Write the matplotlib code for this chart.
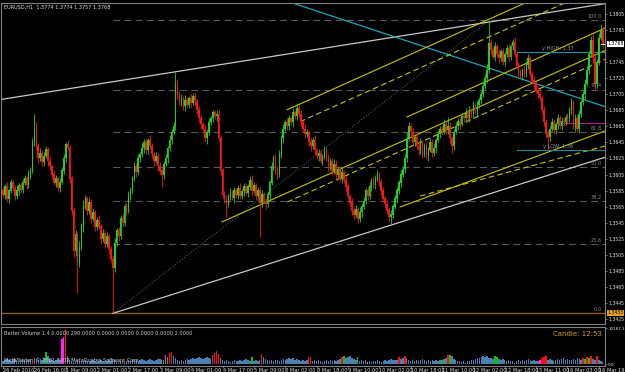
import matplotlib
matplotlib.use('Agg')
import matplotlib.pyplot as plt
import numpy as np

title_text = "EURUSD,H1  1.3774 1.3774 1.3757 1.3768"
base_price = 1.3400
pip = 0.0001
first_open = 185
closes = [180, 190, 175, 185, 195, 188, 178, 185, 192,
          186, 195, 200, 192, 205, 210,
          245, 262,
          240, 225, 232, 220, 228,
          236, 222, 215,
          205, 195, 200, 188, 196, 210,
          225, 243, 238,
          200, 160, 110,
          130, 95, 115, 140,
          165, 175, 160, 170,
          150, 158, 140, 148,
          140, 125, 132, 118, 128, 112, 100,
          88, 120, 135, 128, 150, 145, 165, 160, 178, 186,
          200, 215, 208, 225, 230, 238,
          245, 235, 248, 240,
          230, 222, 228, 215,
          210, 205, 218,
          225, 238, 248, 258, 265,
          318,
          305, 295, 300, 290, 298, 292,
          300, 294, 302, 296,
          285, 275, 268, 262,
          250, 258, 270,
          275, 282, 278, 280,
          250, 210, 180,
          175, 168, 178,
          182, 176, 185, 180, 188, 178, 184, 190, 182,
          190, 198, 185, 192, 178, 185, 170, 180, 172,
          168, 180, 195, 215, 225, 212, 205, 230,
          250, 262, 270, 265,
          275, 270, 282, 278, 288, 280,
          270, 262, 255, 258, 245, 240, 248, 235, 228, 232, 222,
          228, 235, 225, 215, 222, 210, 218, 205, 212, 200, 208, 198,
          190, 178, 170, 160, 155, 162, 150, 158,
          165, 172, 185, 178, 190, 198, 192, 200, 205, 195,
          185, 175, 168, 160, 152, 155,
          165, 175, 185, 195, 205, 212, 225,
          250, 265, 258,
          245, 252, 240,
          235, 245, 230, 240, 228, 236, 245, 232, 238, 248,
          255, 262, 258, 268, 260, 265,
          250, 240, 258,
          265, 272, 268, 278, 275, 282, 276,
          285, 280, 290, 284, 292,
          298, 305, 315, 325, 335,
          368,
          360, 352, 365, 355,
          350, 358, 345, 355, 362, 352, 365, 370,
          355, 340, 332, 328,
          335, 330, 342, 350,
          330, 322, 318, 310, 305, 300,
          285, 270, 255, 252,
          262, 270, 260, 268, 275, 265,
          272, 270, 276, 274,
          285, 295, 265, 275, 262,
          280, 295, 305, 318,
          335, 355,
          372, 350, 318, 345,
          375, 385,
          368]
upper_wick = [4, 3, 6, 2, 5, 3, 4, 7, 2, 3, 5, 4, 3, 6, 4, 5, 18, 8, 4, 6,
              3, 5, 4, 3, 6, 2, 5, 4, 3, 5, 4, 6, 3, 5, 4, 3, 5, 6, 4, 7,
              5, 8, 4, 3, 6, 4, 5, 3, 4, 6, 3, 5, 4, 6, 3, 4, 5, 6, 3, 5,
              4, 6, 3, 5, 7, 4, 3, 6, 4, 5, 3, 6, 4, 5, 3, 6, 4, 3, 5, 4,
              6, 3, 4, 5, 3, 6, 4, 5, 15, 6, 4, 5, 3, 6, 4, 3, 5, 4, 6, 3,
              5, 4, 3, 6, 4, 5, 3, 3, 4, 5, 6, 4, 3, 5, 4, 3, 6, 4, 5, 3,
              4, 6, 3, 5, 4, 3, 5, 6, 4, 3, 5, 4, 6, 3, 4, 5, 3, 6, 4, 5,
              3, 5, 4, 6, 3, 5, 4, 3, 6, 4, 6, 4, 5, 3, 6, 4, 3, 5, 4, 6,
              3, 5, 4, 3, 6, 4, 5, 3, 4, 6, 5, 3, 4, 6, 3, 5, 4, 3, 6, 4,
              5, 3, 6, 4, 5, 3, 4, 6, 3, 5, 4, 6, 3, 5, 4, 3, 5, 4, 6, 3,
              4, 5, 3, 6, 4, 5, 8, 6, 4, 5, 3, 6, 4, 5, 3, 4, 6, 3, 5, 4,
              6, 3, 5, 4, 3, 6, 4, 12, 5, 3, 4, 6, 3, 5, 4, 3, 6, 4, 5, 3,
              6, 4, 5, 3, 4, 6, 5, 8, 30, 6, 4, 5, 3, 6, 4, 5, 3, 4, 6, 3,
              4, 6, 3, 5, 4, 3, 6, 4, 5, 3, 4, 6, 3, 5, 4, 3, 5, 4, 6, 3,
              5, 4, 3, 6, 4, 5, 3, 4, 6, 4, 5, 3, 6, 4, 5, 3, 4, 6, 5, 4,
              6, 8, 5, 4, 6, 7, 4]
lower_wick = [3, 5, 4, 6, 3, 4, 5, 3, 6, 4, 4, 3, 5, 4, 6, 3, 5, 4, 6, 3,
              5, 4, 3, 6, 4, 5, 3, 6, 4, 5, 3, 4, 5, 3, 6, 5, 8, 6, 38, 5,
              4, 6, 3, 5, 4, 6, 3, 5, 4, 3, 6, 4, 5, 3, 6, 4, 56, 5, 4, 6,
              3, 5, 4, 6, 3, 5, 4, 3, 6, 4, 5, 3, 6, 4, 5, 3, 4, 6, 3, 5,
              4, 16, 5, 3, 6, 4, 5, 3, 4, 6, 3, 5, 4, 6, 3, 4, 5, 3, 6, 4,
              4, 6, 3, 5, 7, 4, 3, 5, 4, 6, 3, 5, 4, 6, 16, 4, 5, 3, 6, 4,
              5, 3, 4, 6, 3, 5, 4, 6, 3, 5, 4, 43, 5, 3, 6, 4, 5, 3, 4, 6,
              5, 3, 4, 6, 3, 5, 4, 3, 6, 4, 5, 3, 6, 4, 5, 3, 4, 6, 3, 5,
              4, 6, 3, 5, 4, 3, 5, 4, 6, 3, 5, 4, 3, 6, 4, 5, 3, 4, 6, 5,
              3, 5, 4, 6, 3, 4, 5, 3, 6, 4, 5, 3, 4, 6, 3, 5, 4, 6, 10, 4,
              3, 5, 4, 6, 3, 5, 4, 3, 6, 4, 5, 3, 6, 4, 5, 3, 4, 6, 3, 5,
              4, 6, 3, 5, 4, 3, 5, 4, 6, 8, 5, 3, 4, 6, 3, 5, 4, 3, 6, 4,
              5, 3, 6, 4, 5, 3, 4, 6, 4, 5, 3, 5, 4, 6, 3, 4, 5, 3, 6, 4,
              5, 3, 4, 6, 3, 5, 4, 3, 6, 4, 4, 6, 3, 5, 4, 3, 5, 4, 16, 5,
              3, 5, 4, 6, 3, 4, 5, 3, 6, 4, 5, 3, 6, 4, 5, 3, 4, 6, 3, 5,
              4, 6, 8, 5, 4, 3, 5]
volume = [850, 1130, 1420, 1130, 850, 1420, 1700, 1130, 850, 1130,
          1420, 1130, 850, 1130, 1420, 1420, 1700, 1420, 1130, 1420,
          1130, 1700, 3400, 2260, 1420, 1130, 850, 1130, 1420, 1130,
          7080, 7640, 9900, 2260, 1130, 850, 570, 850, 1130, 850,
          570, 850, 1130, 850, 570, 850, 1130, 850, 570, 850,
          1130, 850, 570, 850, 1130, 850, 1420, 1130, 850, 570,
          850, 850, 570, 850, 1130, 850, 1130, 1420, 1130, 850,
          1130, 1420, 1130, 850, 1130, 1420, 1130, 850, 1130, 1420,
          1420, 1130, 1130, 2550, 1980, 3110, 3400, 2260, 1700, 1130,
          850, 1130, 850, 1130, 1420, 1130, 1420, 1700, 1420, 1700,
          1980, 1700, 1420, 1700, 1980, 1700, 1420, 2550, 3110, 3680,
          2830, 1700, 1130, 850, 1130, 850, 570, 850, 1130, 850,
          850, 1130, 850, 1130, 1420, 1130, 850, 1980, 850, 1130,
          850, 1130, 2830, 1980, 1420, 1130, 850, 1130, 850, 1130,
          1130, 850, 1130, 1420, 1130, 1420, 1700, 1420, 1700, 1130,
          1420, 1130, 850, 1130, 850, 1130, 1980, 1980, 850, 1130,
          850, 1130, 850, 570, 850, 1130, 850, 1130, 850, 1130,
          850, 1130, 1420, 1980, 2260, 1700, 1980, 2260, 1700, 1420,
          1130, 1980, 850, 1130, 850, 1130, 570, 850, 570, 850,
          850, 1130, 850, 570, 850, 1130, 850, 1130, 1420, 1130,
          1130, 1130, 1980, 1420, 1700, 2260, 1700, 1130, 850, 1130,
          850, 1130, 850, 1130, 1420, 1130, 850, 1130, 850, 1130,
          850, 1130, 850, 1130, 1130, 1420, 1700, 2550, 2550, 2260,
          1420, 1130, 850, 850, 570, 850, 285, 850, 850, 1130,
          1130, 1420, 1700, 1700, 1980, 2260, 1980, 2260, 1700, 1700,
          1420, 2260, 1980, 1420, 1130, 1420, 1130, 850, 1130, 850,
          850, 285, 850, 1130, 850, 1130, 850, 1130, 1420, 1130,
          850, 1130, 850, 850, 1130, 1700, 1980, 2260, 1130, 1420,
          1130, 850, 1130, 1420, 1130, 1420, 1700, 1130, 1420, 1130,
          1130, 1420, 1130, 1700, 1420, 1130, 1700, 1420, 1980, 1700,
          2260, 1420, 1130, 2260, 1130, 850, 570]
volume_colour_codes = {15: 'r', 22: 'g', 30: 'm', 31: 'm', 32: 'r', 61: 'r',
                       82: 'g', 83: 'm', 84: 'g', 85: 'r', 86: 'r',
                       107: 'r', 108: 'r', 109: 'r', 110: 'r', 127: 'g', 132: 'r',
                       156: 'r', 157: 'r', 173: 'r', 174: 'g', 181: 'g', 186: 'y',
                       202: 'r', 205: 'r', 224: 'g', 227: 'r', 228: 'g', 236: 'y',
                       251: 'g', 252: 'g', 261: 'y', 274: 'm', 275: 'r', 276: 'r',
                       277: 'r', 296: 'r', 297: 'g', 298: 'r', 299: 'g', 300: 'r',
                       303: 'r'}
volume_max_label = "10187.1"
volume_min_label = "0.0"
date_labels = ["26 Feb 2010", "26 Feb 16:00", "1 Mar 09:00", "2 Mar 01:00",
               "2 Mar 17:00", "3 Mar 09:00", "4 Mar 01:00", "4 Mar 17:00",
               "5 Mar 09:00", "8 Mar 02:00", "8 Mar 18:00", "9 Mar 10:00",
               "10 Mar 02:00", "10 Mar 18:00", "11 Mar 10:00", "12 Mar 02:00",
               "12 Mar 18:00", "15 Mar 11:00", "16 Mar 03:00", "16 Mar 19:00"]
bars_per_label = 16
price_ticks = [1.3805, 1.3785, 1.3745, 1.3725, 1.3705, 1.3685, 1.3665, 1.3645,
               1.3625, 1.3605, 1.3585, 1.3565, 1.3545, 1.3525, 1.3505, 1.3485,
               1.3465, 1.3445, 1.3425]
current_price = 1.3768
level_line_price = 1.3433
fib_levels = [0.0, 23.6, 38.2, 50.0, 61.8, 76.4, 100.0]
fib_low, fib_high = 1.3432, 1.3797
fib_low_bar, fib_high_bar = 56, 248
y_high, y_low, pivot_price = 1.37577, 1.36356, 1.36692
y_line_start = 262
pivot_start = 285
# trend lines: (bar1, price1, bar2, price2)
upper_white = (88, 1.3733, 248, 1.3795)
lower_white = (56, 1.3432, 198, 1.3542)
cyan_line = (192.3, 1.37826, 292.3, 1.37016)
# yellow channel lines (start bar, start price, second bar, second price)
yellow_solid = [(111.7, 1.35459, 151.5, 1.35894),
                (144.9, 1.36856, 190.8, 1.37359),
                (206.1, 1.36767, 257.1, 1.37326),
                (202.6, 1.35645, 307.1, 1.36592)]
yellow_dashed = [(151.5, 1.36707, 192.3, 1.37154),
                 (145.0, 1.35707, 198.0, 1.36288),
                 (212.8, 1.35782, 307.1, 1.36405)]
panel_texts = ["Better Volume 1.4 0.0000 290.0000 0.0000 0.0000 0.0000 0.0000 2.0000",
               "MetaTrader, \u00a9 2001-2009 MetaQuotes Software Corp."]
candle_timer = "Candle: 12:53"

BG = '#000000'
GRID_GRAY = '#808080'
BULL = '#1fd21f'
BEAR = '#ff1414'
YEL = '#c8c400'
VOL_COL = {'b': '#4a80b4', 'r': '#ff1010', 'g': '#10c010', 'm': '#ff20ff', 'y': '#c8b400'}
FS = 3.6
FS_R = 3.35

n = len(closes)
idx = np.arange(n)
c = base_price + np.array(closes) * pip
o = np.concatenate([[base_price + first_open * pip], c[:-1]])
hi = np.maximum(o, c) + np.array(upper_wick) * pip
lo = np.minimum(o, c) - np.array(lower_wick) * pip

W, H = 625, 372
fig = plt.figure(figsize=(W / 100, H / 100), dpi=100, facecolor=BG)
ax = fig.add_axes([1 / W, 1 - 324 / H, 604 / W, 321 / H], facecolor=BG)
axv = fig.add_axes([1 / W, 1 - 366 / H, 604 / W, 39 / H], facecolor=BG)

px_per_bar = 1.96
x0 = (1 - 3) / px_per_bar
x1 = (605 - 3) / px_per_bar
ppx = 8026.0
ax.set_xlim(x0, x1)
ax.set_ylim(1.3805 - 310 / ppx, 1.3805 + 11 / ppx)

# fib levels
for lv in fib_levels:
    p = fib_low + (fib_high - fib_low) * lv / 100
    ax.plot([fib_low_bar, x1], [p, p], color='#5a5a5a', lw=0.8, ls=(0, (6, 4)), zorder=1)
    ax.text(x1 - 1.5, p + 1.2 / ppx, f"{lv:.1f}", color='#8a8a8a', fontsize=FS,
            ha='right', va='bottom', zorder=5)

# horizontal orange level line
ax.axhline(level_line_price, color='#8b5a1e', lw=1.0, zorder=1)

# fib diagonal
ax.plot([fib_low_bar, fib_high_bar], [fib_low, fib_high], color='#2f7f86', lw=0.7,
        ls=(0, (1, 2)), zorder=1)

def extend(line, xa, xb):
    b1, p1, b2, p2 = line
    s = (p2 - p1) / (b2 - b1)
    return [xa, xb], [p1 + s * (xa - b1), p1 + s * (xb - b1)]

xs, ys = extend(upper_white, x0, x1)
ax.plot(xs, ys, color='#c8c8c8', lw=0.9, zorder=2)
xs, ys = extend(lower_white, lower_white[0], x1)
ax.plot(xs, ys, color='#c8c8c8', lw=0.9, zorder=2)
xs, ys = extend(cyan_line, x0, x1)
ax.plot(xs, ys, color='#1fa5b5', lw=0.9, zorder=2)
for ln in yellow_solid:
    xs, ys = extend(ln, ln[0], x1)
    ax.plot(xs, ys, color=YEL, lw=0.8, zorder=2)
for ln in yellow_dashed:
    xs, ys = extend(ln, ln[0], x1)
    ax.plot(xs, ys, color=YEL, lw=0.8, ls=(0, (5, 3)), zorder=2)

# yesterday high / low & pivot
ax.plot([y_line_start, x1], [y_high, y_high], color='#1f8fa0', lw=0.8, zorder=2)
ax.plot([y_line_start, x1], [y_low, y_low], color='#1f8fa0', lw=0.8, zorder=2)
ax.plot([pivot_start, x1], [pivot_price, pivot_price], color='#a020a0', lw=0.8, zorder=2)
ax.text(x1 - 16, y_high + 1 / ppx, "y HIGH: 1.37", color='#9a9a9a', fontsize=FS,
        ha='right', va='bottom', zorder=5)
ax.text(x1 - 16, y_low + 1 / ppx, "y LOW: 1.36", color='#9a9a9a', fontsize=FS,
        ha='right', va='bottom', zorder=5)

# candles
up = c >= o
cols = np.where(up, BULL, BEAR)
ax.vlines(idx, lo, hi, colors=cols, lw=0.6, zorder=3)
ax.bar(idx, np.abs(c - o) + 0.3 * pip, bottom=np.minimum(o, c), width=0.8,
       color=cols, edgecolor='none', zorder=3)

# axes styling
for a in (ax, axv):
    for s in a.spines.values():
        s.set_color(GRID_GRAY)
        s.set_linewidth(0.8)
ax.yaxis.tick_right()
ax.set_yticks(price_ticks)
ax.set_yticklabels([f"{p:.4f}" for p in price_ticks])
ax.tick_params(axis='y', colors=GRID_GRAY, labelcolor='#e0e0e0', labelsize=FS_R,
               length=1.5, width=0.6, pad=1.0)
ax.set_xticks([])

# price boxes
ylo, yhi = ax.get_ylim()
for p, fc, tc in [(current_price, '#ffffff', '#000000'), (level_line_price, '#e8a020', '#000000')]:
    ax.text(1.0035, (p - ylo) / (yhi - ylo), f"{p:.4f}", transform=ax.transAxes,
            fontsize=FS_R, color=tc, va='center', ha='left',
            bbox=dict(boxstyle='square,pad=0.12', fc=fc, ec='none'),
            clip_on=False, zorder=6)
ax.plot([x1 - 2, x1], [current_price, current_price], color='#ffffff', lw=0.6, zorder=4)

fig.text(4 / W, 1 - 7 / H, title_text, color='#e0e0e0', fontsize=FS, va='center', ha='left')

# volume panel
vcols = [VOL_COL[volume_colour_codes.get(i, 'b')] for i in range(n)]
axv.bar(idx, volume, width=0.75, color=vcols, edgecolor='none', zorder=2)
axv.set_xlim(x0, x1)
axv.set_ylim(-2 * 283, 37 * 283)
axv.yaxis.tick_right()
axv.set_yticks([0, 10187.1])
axv.set_yticklabels([volume_min_label, volume_max_label])
axv.tick_params(axis='y', colors=GRID_GRAY, labelcolor='#e0e0e0', labelsize=3.0,
                length=1.5, width=0.6, pad=0.8)
tick_pos = np.arange(len(date_labels)) * bars_per_label
axv.set_xticks(tick_pos)
axv.set_xticklabels(date_labels, ha='left')
axv.tick_params(axis='x', colors=GRID_GRAY, labelcolor='#e0e0e0', labelsize=FS,
                length=1.5, width=0.6, pad=0.3)
axv.text(3 / 604, 1 - 4 / 39, panel_texts[0], transform=axv.transAxes, color='#d0d0d0',
         fontsize=FS, va='top', ha='left', zorder=5)
axv.text(3 / 604, 6 / 39, panel_texts[1], transform=axv.transAxes, color='#d0d0d0',
         fontsize=FS, va='center', ha='left', zorder=5)
axv.text(1 - 3 / 604, 1 - 4 / 39, candle_timer, transform=axv.transAxes, color='#d8a030',
         fontsize=5.0, va='top', ha='right', zorder=5)

fig.savefig('out.png', dpi=100, facecolor=BG)
